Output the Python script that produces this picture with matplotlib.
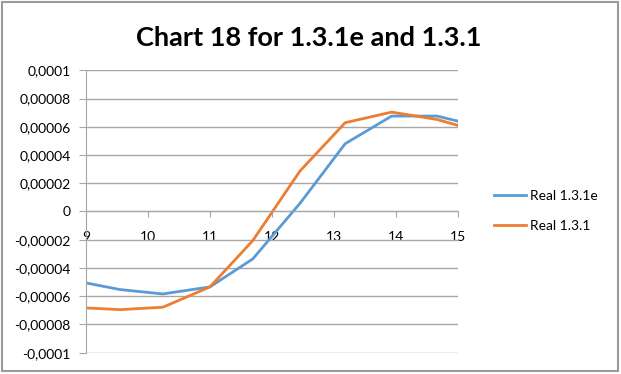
import matplotlib.pyplot as plt
from matplotlib.patches import Rectangle

x_vals = [9, 9.55, 10.24, 11, 11.69, 12.45, 13.18, 13.93, 14.66, 15]
real_131e = [-5.06e-5, -5.53e-5, -5.84e-5, -5.34e-5, -3.36e-5, 0.57e-5, 4.8e-5, 6.76e-5, 6.76e-5, 6.4e-5]
real_131 = [-6.83e-5, -6.95e-5, -6.78e-5, -5.34e-5, -2.06e-5, 2.86e-5, 6.29e-5, 7.04e-5, 6.52e-5, 6.1e-5]

y_ticks = [-1e-4, -8e-5, -6e-5, -4e-5, -2e-5, 0, 2e-5, 4e-5, 6e-5, 8e-5, 1e-4]
y_labels = ["-0,0001", "-0,00008", "-0,00006", "-0,00004", "-0,00002", "0",
            "0,00002", "0,00004", "0,00006", "0,00008", "0,0001"]
x_ticks = [9, 10, 11, 12, 13, 14, 15]

plt.rcParams['font.family'] = ['Lato', 'DejaVu Sans']
grey = '#a6a6a6'

fig = plt.figure(figsize=(6.21, 3.74), dpi=100)
fig.patches.append(Rectangle((0.004, 0.008), 0.991, 0.986, transform=fig.transFigure,
                             fill=False, edgecolor='#9a9a9a', linewidth=1.5))

ax = fig.add_axes([0.1385, 0.057, 0.599, 0.755])
ax.plot(x_vals, real_131e, color='#5B9BD5', linewidth=2, label='Real 1.3.1e')
ax.plot(x_vals, real_131, color='#ED7D31', linewidth=2, label='Real 1.3.1')

ax.set_xlim(9, 15)
ax.set_ylim(-1e-4, 1e-4)
ax.set_yticks(y_ticks)
ax.set_yticklabels(y_labels)
ax.set_xticks(x_ticks)
ax.set_xticklabels([str(t) for t in x_ticks])

ax.grid(axis='y', color=grey, linewidth=1)
ax.set_axisbelow(True)
for side in ['top', 'right']:
    ax.spines[side].set_visible(False)
ax.spines['bottom'].set_position(('data', 0))
ax.spines['bottom'].set_color(grey)
ax.spines['left'].set_color(grey)
ax.tick_params(axis='x', direction='out', length=4, color=grey, pad=10, labelsize=10)
ax.tick_params(axis='y', direction='out', length=5, color=grey, pad=6, labelsize=10)

fig.text(0.497, 0.898, 'Chart 18 for 1.3.1e and 1.3.1', ha='center', va='center',
         fontsize=19.5, fontweight='bold')

fig.legend(loc='center left', bbox_to_anchor=(0.775, 0.436), frameon=False,
           fontsize=10, handlelength=2.3, labelspacing=1.3, handletextpad=0.3)

fig.savefig('out.png', dpi=100)
